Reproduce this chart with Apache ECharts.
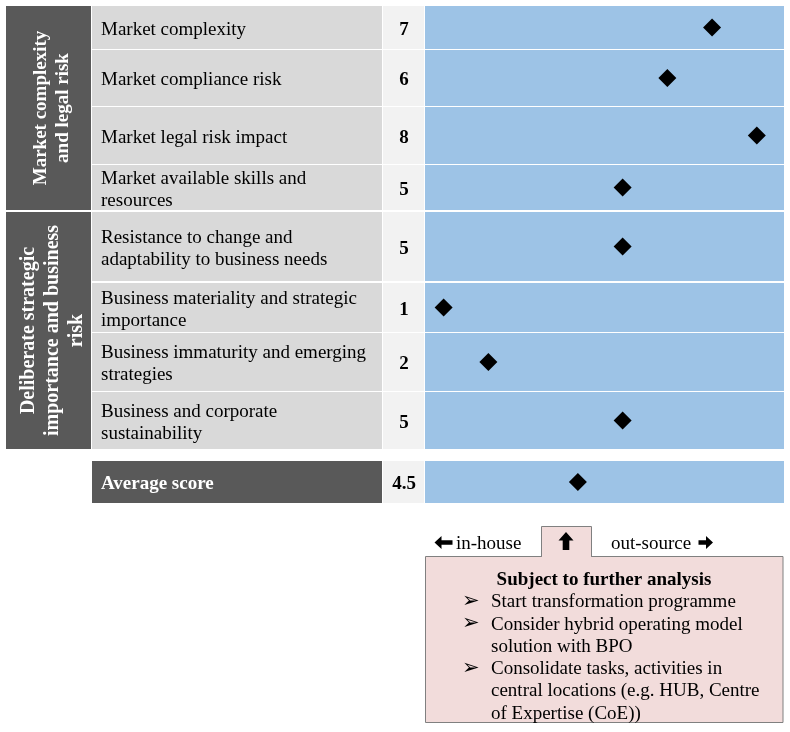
<!DOCTYPE html>
<html><head><meta charset="utf-8">
<script src="https://cdn.jsdelivr.net/npm/echarts@6/dist/echarts.min.js"></script>
<style>html,body{margin:0;padding:0;background:#fff}#c{width:790px;height:732px}</style>
</head><body><div id="c"></div>
<script>
// ---- data ----
const groups = ['Market complexity\nand legal risk', 'Deliberate strategic\nimportance and business\nrisk'];
const groupOf = [0, 0, 0, 0, 1, 1, 1, 1];
const criteria = [
  'Market complexity',
  'Market compliance risk',
  'Market legal risk impact',
  'Market available skills and\nresources',
  'Resistance to change and\nadaptability to business needs',
  'Business materiality and strategic\nimportance',
  'Business immaturity and emerging\nstrategies',
  'Business and corporate\nsustainability'
];
const scores = [7, 6, 8, 5, 5, 1, 2, 5];
const averageLabel = 'Average score';
const averageScoreText = '4.5';
const averageMarker = 4;
const legendLeft = 'in-house';
const legendRight = 'out-source';
const boxTitle = 'Subject to further analysis';
const boxBullets = [
  'Start transformation programme',
  'Consider hybrid operating model\nsolution with BPO',
  'Consolidate tasks, activities in\ncentral locations (e.g. HUB, Centre\nof Expertise (CoE))'
];

// ---- layout ----
const rowTop = [6, 50, 107, 165, 212, 283, 333, 392, 461];
const rowH   = [43, 56, 57, 45, 69, 49, 58, 57, 42];
const groupSpan = [[6, 210], [212, 449]];
const colGroup = [6, 85], colLabel = [92, 290], colValue = [383, 41], colPlot = [425, 359];
const xMin = 0.584, xMax = 8.607;
const TY = 2.5; // text baseline nudge
const SERIF = '"Liberation Serif", "Times New Roman", serif';
const C = { dark: '#595959', label: '#D9D9D9', value: '#F2F2F2', plot: '#9DC3E6', pink: '#F2DCDB', border: '#808080' };

const allLabels = criteria.concat([averageLabel]);
const allValues = scores.concat([averageMarker]);
const allValueText = scores.map(String).concat([averageScoreText]);

const grid = [], xAxis = [], yAxis = [], series = [], graphic = [];
allLabels.forEach((lab, i) => {
  grid.push({ left: colPlot[0], top: rowTop[i], width: colPlot[1], height: rowH[i], show: true, backgroundColor: C.plot, borderWidth: 0, containLabel: false });
  xAxis.push({ gridIndex: i, type: 'value', min: xMin, max: xMax, show: false });
  yAxis.push({ gridIndex: i, type: 'category', data: [lab], show: false });
  series.push({ type: 'scatter', xAxisIndex: i, yAxisIndex: i, data: [[allValues[i], lab]], symbol: 'diamond', symbolSize: 18, itemStyle: { color: '#000', opacity: 1 }, silent: true });
  const isAvg = i === allLabels.length - 1;
  const cy = rowTop[i] + rowH[i] / 2 + TY;
  graphic.push({ type: 'rect', shape: { x: colLabel[0], y: rowTop[i], width: colLabel[1], height: rowH[i] }, style: { fill: isAvg ? C.dark : C.label } });
  graphic.push({ type: 'rect', shape: { x: colValue[0], y: rowTop[i], width: colValue[1], height: rowH[i] }, style: { fill: C.value } });
  graphic.push({ type: 'text', x: 101, y: cy, style: { text: lab, fill: isAvg ? '#fff' : '#000', fontFamily: SERIF, fontSize: 19, fontWeight: isAvg ? 'bold' : 'normal', lineHeight: 22, textAlign: 'left', textVerticalAlign: 'middle' } });
  graphic.push({ type: 'text', x: colValue[0] + colValue[1] / 2 + 0.5, y: cy, style: { text: allValueText[i], fill: '#000', fontFamily: SERIF, fontSize: 19, fontWeight: 'bold', textAlign: 'center', textVerticalAlign: 'middle' } });
});

groups.forEach((g, k) => {
  const [t, b] = groupSpan[k];
  graphic.push({ type: 'rect', shape: { x: colGroup[0], y: t, width: colGroup[1], height: b - t }, style: { fill: C.dark } });
  graphic.push({ type: 'text', x: colGroup[0] + colGroup[1] / 2 + 4, y: (t + b) / 2, rotation: Math.PI / 2, style: { text: g, fill: '#fff', fontFamily: SERIF, fontSize: k === 0 ? 19 : 20, fontWeight: 'bold', lineHeight: k === 0 ? 22 : 24, textAlign: 'center', textVerticalAlign: 'middle' } });
});

// bottom box and tab
graphic.push({ type: 'rect', shape: { x: 425.5, y: 556.5, width: 357.5, height: 166 }, style: { fill: C.pink, stroke: C.border, lineWidth: 1 } });
graphic.push({ type: 'rect', shape: { x: 541.5, y: 526.5, width: 50, height: 30 }, style: { fill: C.pink, stroke: C.border, lineWidth: 1 } });
graphic.push({ type: 'rect', shape: { x: 542, y: 554, width: 49, height: 4 }, style: { fill: C.pink } });
// up arrow
graphic.push({ type: 'polygon', shape: { points: [[566, 532], [573.5, 540.5], [569.3, 540.5], [569.3, 550], [562.7, 550], [562.7, 540.5], [558.5, 540.5]] }, style: { fill: '#000' } });
// left arrow
graphic.push({ type: 'polygon', shape: { points: [[434.5, 542.5], [441.5, 536], [441.5, 540.2], [452.5, 540.2], [452.5, 544.8], [441.5, 544.8], [441.5, 549]] }, style: { fill: '#000' } });
// right arrow
graphic.push({ type: 'polygon', shape: { points: [[713, 542.5], [706, 536], [706, 540.2], [698.5, 540.2], [698.5, 544.8], [706, 544.8], [706, 549]] }, style: { fill: '#000' } });
graphic.push({ type: 'text', x: 456, y: 542.5 + TY - 1, style: { text: legendLeft, fill: '#000', fontFamily: SERIF, fontSize: 19, textAlign: 'left', textVerticalAlign: 'middle' } });
graphic.push({ type: 'text', x: 611, y: 542.5 + TY - 1, style: { text: legendRight, fill: '#000', fontFamily: SERIF, fontSize: 19, textAlign: 'left', textVerticalAlign: 'middle' } });

const LH = 22.3, firstLine = 579 + 1;
graphic.push({ type: 'text', x: 604, y: firstLine, style: { text: boxTitle, fill: '#000', fontFamily: SERIF, fontSize: 19, fontWeight: 'bold', textAlign: 'center', textVerticalAlign: 'middle' } });
let line = 1;
boxBullets.forEach(b => {
  const y0 = firstLine + LH * line;
  graphic.push({ type: 'text', x: 462, y: y0 - 1, style: { text: '\u27A2', fill: '#000', fontFamily: '"DejaVu Sans"', fontSize: 21, textAlign: 'left', textVerticalAlign: 'middle' } });
  graphic.push({ type: 'text', x: 491, y: y0 - LH / 2, style: { text: b, fill: '#000', fontFamily: SERIF, fontSize: 19, lineHeight: LH, textAlign: 'left', textVerticalAlign: 'top' } });
  line += b.split('\n').length;
});

const chart = echarts.init(document.getElementById('c'), null, { renderer: 'canvas' });
chart.setOption({ animation: false, backgroundColor: '#fff', grid, xAxis, yAxis, series, graphic });
</script></body></html>
